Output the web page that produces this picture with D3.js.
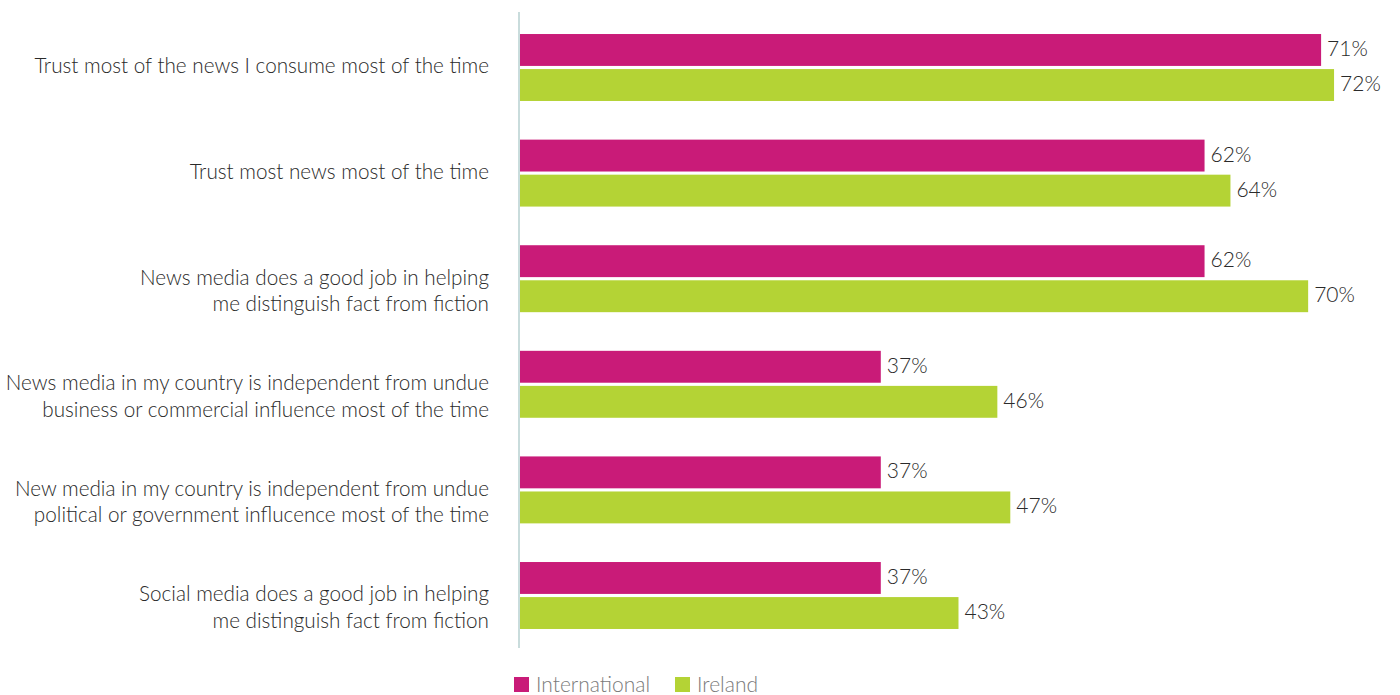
<!DOCTYPE html>
<html>
<head>
<meta charset="utf-8">
<script src="https://cdn.jsdelivr.net/npm/d3@7"></script>
<style>
  html, body { margin: 0; padding: 0; background: #ffffff; }
  svg { display: block; }
  text { font-family: Lato, "Open Sans", sans-serif; font-weight: 300; }
</style>
</head>
<body>
<svg id="chart" width="1400" height="695"></svg>
<script>
// Survey statements (line breaks marked with \n)
const categories = [
  "Trust most of the news I consume most of the time",
  "Trust most news most of the time",
  "News media does a good job in helping\nme distinguish fact from fiction",
  "News media in my country is independent from undue\nbusiness or commercial influence most of the time",
  "New media in my country is independent from undue\npolitical or government influcence most of the time",
  "Social media does a good job in helping\nme distinguish fact from fiction"
];
const seriesNames = ["International", "Ireland"];
const international = [71, 62, 62, 37, 37, 37];
const ireland = [72, 64, 70, 46, 47, 43];
const colors = ["#c91b78", "#b4d335"];

const svg = d3.select("#chart");

// Horizontal value scale; the baseline sits a little above zero
const xBase = 9.14;
const x = d3.scaleLinear().domain([xBase, 75]).range([520, 1372.9]);

// Group bands and bars within each group
const y = d3.scaleBand().domain(categories).range([14.7, 648.3])
  .paddingInner(0.366).paddingOuter(0.183);
const yInner = d3.scaleBand().domain(seriesNames).range([0, y.bandwidth()])
  .paddingInner(0.09);

const rows = categories.map((c, i) => ({
  cat: c,
  values: [
    { key: seriesNames[0], value: international[i] },
    { key: seriesNames[1], value: ireland[i] }
  ]
}));

const color = d3.scaleOrdinal().domain(seriesNames).range(colors);

// Vertical baseline
svg.append("line")
  .attr("x1", 519).attr("x2", 519)
  .attr("y1", 12).attr("y2", 648)
  .attr("stroke", "#c9dcdc").attr("stroke-width", 2);

const groups = svg.selectAll("g.group").data(rows).join("g")
  .attr("class", "group")
  .attr("transform", d => `translate(0,${y(d.cat)})`);

groups.selectAll("rect").data(d => d.values).join("rect")
  .attr("x", x(xBase))
  .attr("y", d => yInner(d.key))
  .attr("width", d => x(d.value) - x(xBase))
  .attr("height", yInner.bandwidth())
  .attr("fill", d => color(d.key));

groups.selectAll("text.val").data(d => d.values).join("text")
  .attr("class", "val")
  .attr("x", d => x(d.value) + 6)
  .attr("y", d => yInner(d.key) + yInner.bandwidth() / 2 + 6)
  .attr("font-size", 21)
  .attr("fill", "#2a2a2a")
  .text(d => d.value + "%");

// Category labels, right aligned against the baseline
groups.each(function(d) {
  const lines = d.cat.split("\n");
  const t = d3.select(this).append("text")
    .attr("text-anchor", "end")
    .attr("font-size", 20.7)
    .attr("fill", "#2a2a2a");
  lines.forEach((ln, j) => {
    t.append("tspan")
      .attr("x", 489)
      .attr("y", y.bandwidth() / 2 + 6 + j * 26.5)
      .text(ln);
  });
});

// Legend
const legend = svg.append("g").attr("transform", "translate(514,677)");
const items = legend.selectAll("g").data(seriesNames).join("g")
  .attr("transform", (d, i) => `translate(${i * 161},0)`);
items.append("rect")
  .attr("width", 15).attr("height", 15)
  .attr("fill", d => color(d));
items.append("text")
  .attr("x", 22).attr("y", 15)
  .attr("font-size", 21)
  .attr("fill", "#7a7a7a")
  .text(d => d);
</script>
</body>
</html>
